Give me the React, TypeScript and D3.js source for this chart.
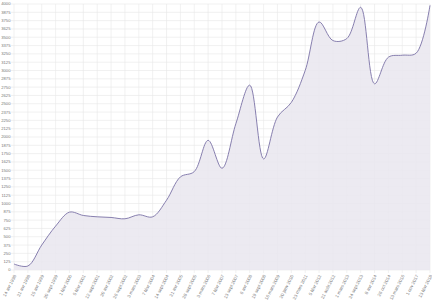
import React from "react";
import * as d3 from "d3";

const labels: string[] = [
  "14 avr 1998", "21 avr 1998", "15 avr 1999", "20 sept 1999", "1 févr 2000",
  "5 févr 2001", "12 sept 2001", "20 avr 2002", "26 sept 2002", "3 mars 2003",
  "7 févr 2004", "14 sept 2004", "21 avr 2005", "28 sept 2005", "3 mars 2006",
  "7 févr 2007", "13 sept 2007", "6 avr 2008", "19 sept 2008", "16 mars 2009",
  "20 janv 2010", "23 mars 2011", "5 févr 2012", "21 août 2012", "1 mars 2013",
  "24 sept 2013", "8 avr 2014", "26 oct 2014", "13 mars 2016", "1 nov 2017",
  "13 févr 2018",
];

const values: number[] = [
  90, 60, 375, 660, 870, 820, 800, 790, 770, 830,
  800, 1050, 1400, 1480, 1950, 1530, 2200, 2780, 1670, 2300,
  2520, 3000, 3730, 3450, 3480, 3950, 2800, 3200, 3230, 3260,
  3980,
];

const yTicks: number[] = d3.range(0, 4001, 125);

const W = 432;
const H = 300;
const left = 14;
const right = 430;
const top = 4;
const bottom = 270;

export default function App() {
  const x = d3.scalePoint<number>().domain(d3.range(labels.length)).range([left, right]);
  const y = d3.scaleLinear().domain([0, 4000]).range([bottom, top]);
  const curve = d3.curveCatmullRom.alpha(0.5);
  const line = d3.line<number>().x((_, i) => x(i)!).y((d) => y(d)).curve(curve);
  const area = d3.area<number>().x((_, i) => x(i)!).y0(y(0)).y1((d) => y(d)).curve(curve);
  const grid = "#e8e8e8";
  return (
    <svg width={W} height={H} style={{ position: "fixed", left: 0, top: 0, background: "#fff" }}
      fontFamily="Liberation Sans, Arial, sans-serif">
      {yTicks.map((t) => (
        <g key={"y" + t}>
          <line x1={left - 3} x2={right} y1={y(t)} y2={y(t)} stroke={grid} strokeWidth={0.6} />
          <text x={left - 3.5} y={y(t)} dy="0.35em" textAnchor="end" fontSize={4.2} fill="#777">{t}</text>
        </g>
      ))}
      {labels.map((l, i) => (
        <g key={"x" + i}>
          <line x1={x(i)} x2={x(i)} y1={top} y2={bottom + 3} stroke={grid} strokeWidth={0.6} />
          <text transform={`translate(${x(i)! + 1},${bottom + 5}) rotate(-63)`} textAnchor="end"
            dy="0.35em" fontSize={4.5} fill="#777">{l}</text>
        </g>
      ))}
      <path d={area(values)!} fill="#e9e6ef" fillOpacity={0.85} />
      <path d={line(values)!} fill="none" stroke="#7a72a6" strokeWidth={0.9} />
    </svg>
  );
}
